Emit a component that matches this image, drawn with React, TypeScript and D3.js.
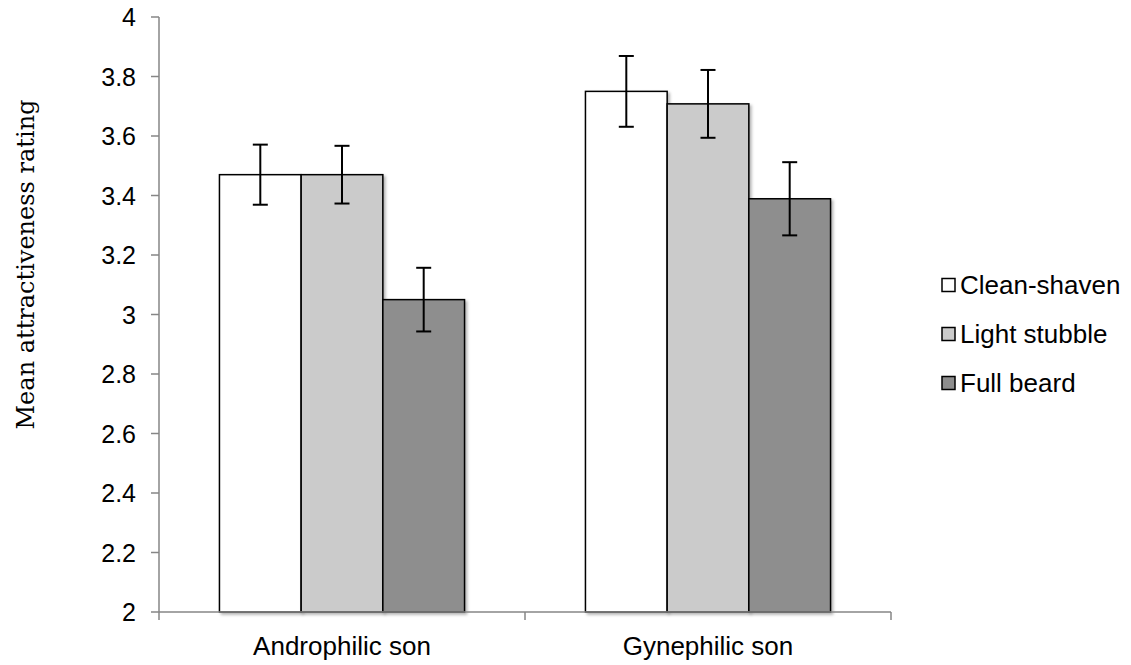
import * as d3 from 'd3';
import React from 'react';

const categories = ['Androphilic son', 'Gynephilic son'];
const seriesNames = ['Clean-shaven', 'Light stubble', 'Full beard'];
const seriesColors = ['#ffffff', '#cbcbcb', '#8e8e8e'];
const cleanShaven = [3.47, 3.75];
const lightStubble = [3.47, 3.708];
const fullBeard = [3.05, 3.389];
const cleanShavenErr = [0.101, 0.119];
const lightStubbleErr = [0.097, 0.114];
const fullBeardErr = [0.107, 0.123];
const yTicks = [2, 2.2, 2.4, 2.6, 2.8, 3, 3.2, 3.4, 3.6, 3.8, 4];

const values = [cleanShaven, lightStubble, fullBeard];
const errors = [cleanShavenErr, lightStubbleErr, fullBeardErr];

const W = 1131;
const H = 665;
const plot = { left: 159, right: 891, top: 17, bottom: 612 };
const axisColor = '#868686';
const sans = '"Liberation Sans", Arial, sans-serif';

export default function App() {
  const y = d3.scaleLinear().domain([2, 4]).range([plot.bottom, plot.top]);
  const x = d3
    .scaleBand<string>()
    .domain(categories)
    .range([plot.left, plot.right])
    .padding(0);
  const xs = d3
    .scaleBand<string>()
    .domain(seriesNames)
    .range([0, x.bandwidth()])
    .paddingInner(0)
    .paddingOuter(0.74);
  const capW = 15;

  const tickFmt = d3.format('');

  return (
    <svg
      width={W}
      height={H}
      style={{ position: 'absolute', left: 0, top: 0, background: '#fff' }}
    >
      <defs>
        <filter id="shadow" x="-10%" y="-10%" width="130%" height="130%">
          <feDropShadow dx="2" dy="2" stdDeviation="1.5" floodColor="#000" floodOpacity="0.3" />
        </filter>
      </defs>

      {/* y axis */}
      <line x1={plot.left} x2={plot.left} y1={plot.top} y2={plot.bottom} stroke={axisColor} strokeWidth={1.5} />
      {yTicks.map((t) => (
        <g key={t}>
          <line x1={plot.left - 8} x2={plot.left} y1={y(t)} y2={y(t)} stroke={axisColor} strokeWidth={1.5} />
          <text
            x={136}
            y={y(t)}
            dy="0.36em"
            textAnchor="end"
            fontFamily={sans}
            fontSize={25}
            fill="#000"
          >
            {tickFmt(t)}
          </text>
        </g>
      ))}

      {/* bars */}
      {categories.map((c, ci) => (
        <g key={c}>
          {seriesNames.map((s, si) => {
            const bx = (x(c) || 0) + (xs(s) || 0);
            const v = values[si][ci];
            return (
              <rect
                key={s}
                x={bx}
                y={y(v)}
                width={xs.bandwidth()}
                height={plot.bottom - y(v)}
                fill={seriesColors[si]}
                stroke="#000"
                strokeWidth={1.5}
                filter="url(#shadow)"
              />
            );
          })}
        </g>
      ))}

      {/* error bars */}
      {categories.map((c, ci) => (
        <g key={c + '-err'}>
          {seriesNames.map((s, si) => {
            const cx = (x(c) || 0) + (xs(s) || 0) + xs.bandwidth() / 2;
            const v = values[si][ci];
            const e = errors[si][ci];
            return (
              <g key={s} stroke="#000" strokeWidth={2}>
                <line x1={cx} x2={cx} y1={y(v + e)} y2={y(v - e)} />
                <line x1={cx - capW / 2} x2={cx + capW / 2} y1={y(v + e)} y2={y(v + e)} />
                <line x1={cx - capW / 2} x2={cx + capW / 2} y1={y(v - e)} y2={y(v - e)} />
              </g>
            );
          })}
        </g>
      ))}

      {/* x axis */}
      <line x1={plot.left} x2={plot.right} y1={plot.bottom} y2={plot.bottom} stroke={axisColor} strokeWidth={1.5} />
      {[...categories.map((c) => x(c) || 0), plot.right].map((tx, i) => (
        <line key={i} x1={tx} x2={tx} y1={plot.bottom} y2={plot.bottom + 8} stroke={axisColor} strokeWidth={1.5} />
      ))}
      {categories.map((c) => (
        <text
          key={c}
          x={(x(c) || 0) + x.bandwidth() / 2}
          y={655}
          textAnchor="middle"
          fontFamily={sans}
          fontSize={26}
          fill="#000"
        >
          {c}
        </text>
      ))}

      {/* y title */}
      <text
        transform={`translate(34, ${(plot.top + plot.bottom) / 2 - 50}) rotate(-90)`}
        textAnchor="middle"
        fontFamily='"DejaVu Serif", "Liberation Serif", serif'
        fontSize={24}
        fill="#000"
      >
        Mean attractiveness rating
      </text>

      {/* legend */}
      {seriesNames.map((s, i) => {
        const ly = 285 + i * 49;
        return (
          <g key={s}>
            <rect x={942} y={ly - 6.5} width={13} height={13} fill={seriesColors[i]} stroke="#000" strokeWidth={1.5} />
            <text x={960} y={ly} dy="0.36em" fontFamily={sans} fontSize={26} fill="#000">
              {s}
            </text>
          </g>
        );
      })}
    </svg>
  );
}
